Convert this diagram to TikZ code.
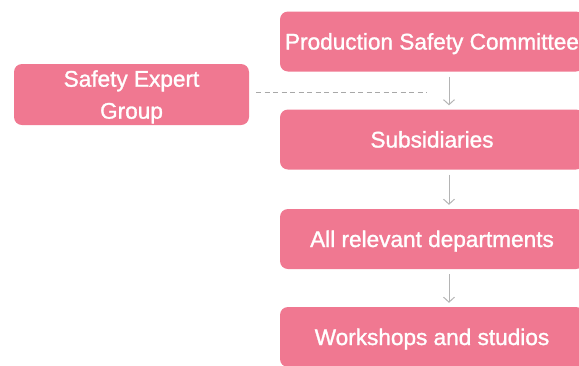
\documentclass[tikz,border=0pt]{standalone}
\usepackage{fontspec}
\setmainfont{Liberation Sans}
\newfontfamily\boxfont{Liberation Sans}[FakeBold=1.3]
\usetikzlibrary{arrows.meta}
\definecolor{boxpink}{HTML}{F07891}
\definecolor{arrgray}{HTML}{B4B4B4}
\definecolor{dashgray}{HTML}{A8A8A8}
\begin{document}
\begin{tikzpicture}[x=1pt,y=-1pt,
  box/.style={draw=none, fill=boxpink, rounded corners=8pt, text=white,
    font=\boxfont\fontsize{22.6}{32}\selectfont, inner sep=0pt, align=center},
  flowbox/.style={box, minimum width=304pt, minimum height=60pt,
    text height=16pt, text depth=0pt},
  arr/.style={draw=arrgray, line width=1pt, -{Straight Barb[length=5pt,width=11pt]},
    shorten <=5pt, shorten >=4pt},
  dashline/.style={draw=dashgray, line width=0.8pt, dash pattern=on 5pt off 3.5pt}
]
\useasboundingbox (0,0) rectangle (579,365);
\begin{scope}
\clip (0,0) rectangle (579,365);
\node[flowbox] (psc) at (432,41.5) {Production Safety Committee};
\node[flowbox] (sub) at (432,139.5) {Subsidiaries};
\node[flowbox] (dep) at (432,239) {All relevant departments};
\node[flowbox] (work) at (432,337) {Workshops and studios};
\node[box, minimum width=235pt, minimum height=61pt, text depth=0pt] (seg) at (131.5,94.5) {Safety Expert\\Group};
\coordinate (dashend) at (427,92);
\draw[dashline] ([shift={(7pt,2.5pt)}]seg.east) -- (dashend);
\draw[arr] ([xshift=17pt]psc.south) -- ([xshift=17pt]sub.north);
\draw[arr] ([xshift=17pt]sub.south) -- ([xshift=17pt]dep.north);
\draw[arr] ([xshift=17pt]dep.south) -- ([xshift=17pt]work.north);
\end{scope}
\end{tikzpicture}
\end{document}
